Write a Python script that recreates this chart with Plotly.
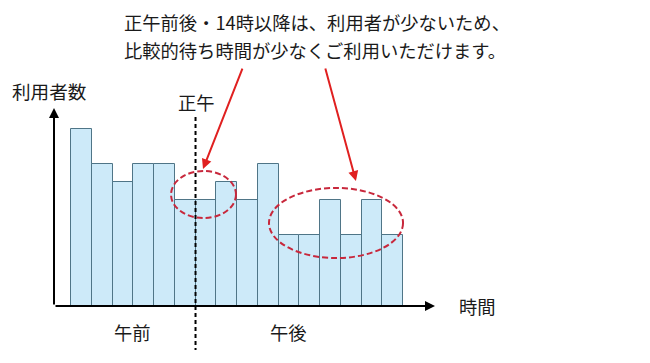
import plotly.graph_objects as go

# ---- data ----
slots = list(range(16))                       # time slots (hour blocks)
users = [10, 8, 7, 8, 8, 6, 6, 7, 6, 8, 4, 4, 6, 4, 6, 4]   # relative number of users
noon_boundary = 5.5                           # between slot 6 and 7
title_lines = ["正午前後・14時以降は、利用者が少ないため、",
               "比較的待ち時間が少なくご利用いただけます。"]
y_label = "利用者数"
x_label = "時間"
noon_label = "正午"
am_label = "午前"
pm_label = "午後"

W, H = 650, 363
L, R, T, B = 54, 215, 108, 57
PW, PH = W - L - R, H - T - B
X0, X1 = -1.32, 17.04
Y0, Y1 = 0, 11.19

def xp(px):
    return (px - L) / PW

def yp(py):
    return (H - B - py) / PH

def d2xp(x):
    return (x - X0) / (X1 - X0)

FONT = "Noto Sans CJK JP"
TXT = "#1a1a1a"
RED = "#e02020"
DRED = "#c8283c"

fig = go.Figure(go.Bar(
    x=slots, y=users, width=1,
    marker=dict(color="#cdeaf9", line=dict(color="#4f7587", width=1)),
    hoverinfo="skip",
))

shapes = [
    # noon dashed line
    dict(type="line", xref="paper", yref="paper",
         x0=d2xp(noon_boundary), x1=d2xp(noon_boundary), y0=yp(117), y1=yp(350),
         line=dict(color="black", width=2, dash="4px,3px")),
    # ellipses
    dict(type="circle", xref="x", yref="y", x0=4.32, x1=7.45, y0=4.97, y1=7.63,
         line=dict(color=DRED, width=2, dash="6px,3px")),
    dict(type="circle", xref="x", yref="y", x0=9.04, x1=15.5, y0=2.71, y1=6.67,
         line=dict(color=DRED, width=2, dash="6px,3px")),
]

ann = []
# axes arrows
ann.append(dict(xref="paper", yref="paper", x=1, y=0, ax=-PW, ay=0, text="",
                showarrow=True, arrowhead=2, arrowsize=1, arrowwidth=2, arrowcolor="black"))
ann.append(dict(xref="paper", yref="paper", x=0, y=1, ax=0, ay=PH, text="",
                showarrow=True, arrowhead=2, arrowsize=1, arrowwidth=2, arrowcolor="black"))
# red pointer arrows
ann.append(dict(xref="x", yref="y", x=5.86, y=7.74, ax=40, ay=-102, text="",
                showarrow=True, arrowhead=2, arrowsize=1, arrowwidth=2, arrowcolor=RED))
ann.append(dict(xref="x", yref="y", x=13.23, y=7.06, ax=-31, ay=-114, text="",
                showarrow=True, arrowhead=2, arrowsize=1, arrowwidth=2, arrowcolor=RED))

def txt(s, px, py, anchor="center", size=18.3):
    ann.append(dict(xref="paper", yref="paper", x=xp(px), y=yp(py), text=s,
                    showarrow=False, xanchor=anchor, yanchor="middle",
                    font=dict(family=FONT, size=size, color=TXT)))

txt(title_lines[0], 122, 22, "left")
txt(title_lines[1], 122, 50, "left")
txt(y_label, 49, 90, size=18.6)
txt(noon_label, 196, 102)
txt(x_label, 477, 306)
txt(am_label, 132, 332)
txt(pm_label, 288, 332)

fig.update_layout(
    width=W, height=H,
    margin=dict(l=L, r=R, t=T, b=B, pad=0),
    paper_bgcolor="white", plot_bgcolor="white",
    bargap=0, showlegend=False,
    xaxis=dict(range=[X0, X1], visible=False, fixedrange=True),
    yaxis=dict(range=[Y0, Y1], visible=False, fixedrange=True),
    shapes=shapes, annotations=ann,
)

fig.write_html("out.html")
